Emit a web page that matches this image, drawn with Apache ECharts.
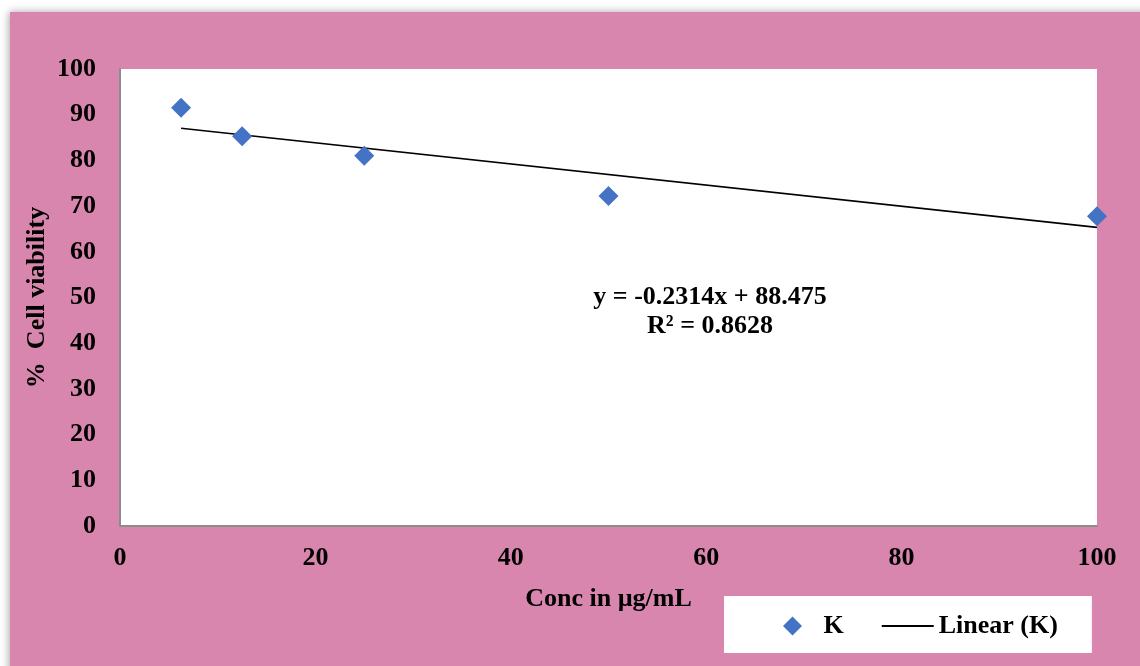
<!DOCTYPE html>
<html>
<head>
<meta charset="utf-8">
<script src="https://cdn.jsdelivr.net/npm/echarts@6/dist/echarts.min.js"></script>
<style>
  html, body { margin: 0; padding: 0; background: #ffffff; }
  #chart { width: 1140px; height: 666px; }
</style>
</head>
<body>
<div id="chart"></div>
<script>
// Cell viability (%) against concentration (µg/mL)
const concentrations = [6.25, 12.5, 25, 50, 100];
const viability = [91.5, 85.3, 81.0, 72.2, 67.8];

// Linear trendline reported for series K
const trendSlope = -0.2314;
const trendIntercept = 88.475;
const trendR2 = 0.8628;

const xTicks = [0, 20, 40, 60, 80, 100];
const yTicks = [0, 10, 20, 30, 40, 50, 60, 70, 80, 90, 100];

const seriesName = 'K';
const trendName = 'Linear (K)';

const FONT = '"Liberation Serif", "Times New Roman", serif';
const FS = 26;
const PINK = '#D886AE';
const BLUE = '#4472C4';

const scatterData = concentrations.map((c, i) => [c, viability[i]]);
const xFirst = concentrations[0];
const xLast = concentrations[concentrations.length - 1];
const trendData = [
  [xFirst, trendSlope * xFirst + trendIntercept],
  [xLast, trendSlope * xLast + trendIntercept]
];

const chart = echarts.init(document.getElementById('chart'), null, { renderer: 'canvas' });

chart.setOption({
  backgroundColor: '#ffffff',
  animation: false,
  textStyle: { fontFamily: FONT },
  graphic: [
    {
      type: 'rect',
      z: -10,
      silent: true,
      shape: { x: 10, y: 12, width: 1140, height: 670 },
      style: {
        fill: PINK,
        shadowBlur: 8,
        shadowColor: 'rgba(0,0,0,0.35)',
        shadowOffsetX: -1,
        shadowOffsetY: 0
      }
    },
    {
      type: 'rect',
      z: -5,
      silent: true,
      shape: { x: 120, y: 69, width: 977, height: 457 },
      style: { fill: '#ffffff' }
    },
    {
      type: 'text',
      z: 10,
      silent: true,
      x: 710,
      y: 312,
      style: {
        text: 'y = ' + trendSlope + 'x + ' + trendIntercept.toFixed(3) + '\nR² = ' + trendR2,
        align: 'center',
        verticalAlign: 'middle',
        fontFamily: FONT,
        fontWeight: 'bold',
        fontSize: FS,
        lineHeight: 29,
        fill: '#000000'
      }
    }
  ],
  grid: {
    left: 120,
    top: 69,
    right: 43,
    bottom: 140,
    containLabel: false
  },
  legend: {
    left: 724,
    top: 596,
    orient: 'horizontal',
    backgroundColor: '#ffffff',
    padding: [17, 34, 14, 59],
    itemWidth: 52,
    itemHeight: 19,
    itemGap: 38,
    textStyle: {
      fontFamily: FONT,
      fontWeight: 'bold',
      fontSize: FS,
      color: '#000000'
    },
    data: [
      { name: seriesName, icon: 'path://M0,-1L1,0L0,1L-1,0Z' },
      { name: trendName, icon: 'path://M0,0L52,0L52,2L0,2Z' }
    ]
  },
  xAxis: {
    type: 'value',
    min: xTicks[0],
    max: xTicks[xTicks.length - 1],
    interval: xTicks[1] - xTicks[0],
    name: 'Conc in µg/mL',
    nameLocation: 'middle',
    nameGap: 60,
    nameMoveOverlap: false,
    nameTextStyle: { fontFamily: FONT, fontWeight: 'bold', fontSize: FS, color: '#000' },
    axisLine: { show: true, lineStyle: { color: '#8c8c8c', width: 2 } },
    axisTick: { show: false },
    splitLine: { show: false },
    axisLabel: {
      margin: 19,
      fontFamily: FONT,
      fontWeight: 'bold',
      fontSize: FS,
      color: '#000'
    }
  },
  yAxis: {
    type: 'value',
    min: yTicks[0],
    max: yTicks[yTicks.length - 1],
    interval: yTicks[1] - yTicks[0],
    name: '%  Cell viability',
    nameLocation: 'middle',
    nameGap: 70,
    nameMoveOverlap: false,
    nameRotate: 90,
    nameTextStyle: { fontFamily: FONT, fontWeight: 'bold', fontSize: FS, color: '#000' },
    axisLine: { show: true, lineStyle: { color: '#8c8c8c', width: 2 } },
    axisTick: { show: false },
    splitLine: { show: false },
    axisLabel: {
      margin: 24,
      fontFamily: FONT,
      fontWeight: 'bold',
      fontSize: FS,
      color: '#000'
    }
  },
  series: [
    {
      name: seriesName,
      type: 'scatter',
      data: scatterData,
      symbol: 'diamond',
      symbolSize: 20,
      clip: false,
      z: 5,
      itemStyle: { color: BLUE, opacity: 1 }
    },
    {
      name: trendName,
      type: 'line',
      data: trendData,
      symbol: 'none',
      showSymbol: false,
      clip: false,
      z: 4,
      lineStyle: { color: '#000000', width: 1.6 },
      itemStyle: { color: '#000000' }
    }
  ]
});
</script>
</body>
</html>
